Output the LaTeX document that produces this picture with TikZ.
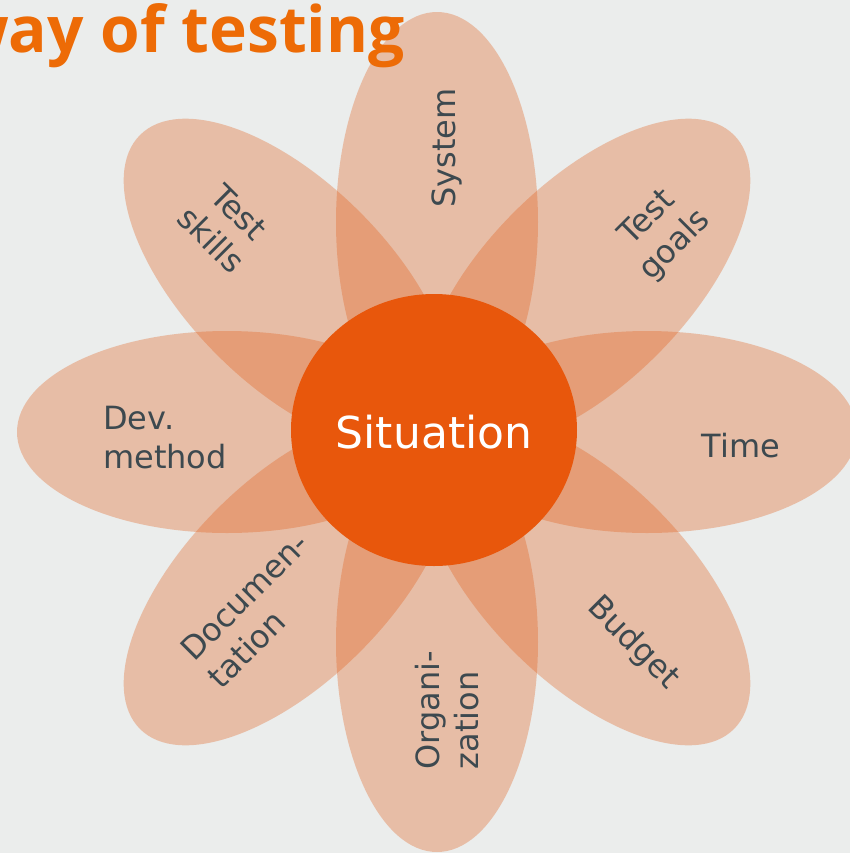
\documentclass[tikz,border=0pt]{standalone}
\usepackage{fontspec}
\setmainfont{DejaVu Sans}
\newfontfamily\titlefont{Open Sans}
\usetikzlibrary{positioning}

\definecolor{bggrey}{RGB}{235,237,236}
\definecolor{petalorange}{RGB}{225,90,20}
\definecolor{heartorange}{RGB}{232,87,12}
\definecolor{titleorange}{RGB}{237,107,6}
\definecolor{labelgrey}{RGB}{61,73,79}

\begin{document}
\begin{tikzpicture}[
        x=0.5pt,y=0.5pt,
        petal/.style={
          fill=petalorange,
          fill opacity=0.32
          },
        heart/.style={
          fill=heartorange
          },
        leaf/.style={
          text=labelgrey,
          font=\fontsize{16}{19.5}\selectfont,
          align=left,
          inner sep=0pt
          },
        headline/.style={
          text=titleorange,
          font=\titlefont\bfseries\fontsize{32}{36}\selectfont,
          inner sep=0pt
          }
        ]
        \useasboundingbox (0,0) rectangle (850,-853);
        \clip (0,0) rectangle (850,-853);
        \fill[bggrey] (0,0) rectangle (850,-853);
        % eight petals round the heart
        \foreach \ang in {0,45,...,315}
          \fill[petal] (437,-432) ++(\ang:210) circle [x radius=210,y radius=101,rotate=\ang];
        \fill[heart] (434,-430) circle [x radius=143,y radius=136];
        \node[text=white,font=\fontsize{22}{26}\selectfont,inner sep=0pt] (situation) at (434,-432) {Situation};
        % petal labels
        \node[leaf,rotate=90] (system) at (447,-148) {System};
        \node[leaf,align=center,rotate=-45] (skills) at (225,-226) {Test\\skills};
        \node[leaf,align=center,rotate=45] (goals) at (662,-232) {Test\\goals};
        \node[leaf] (method) at (165,-438) {Dev.\\method};
        \node[leaf] (time) at (741,-446) {Time};
        \node[leaf,rotate=45] (docs) at (258,-610) {Documen-\\tation};
        \node[leaf,rotate=-45] (budget) at (633,-643) {Budget};
        \node[leaf,rotate=90] (organisation) at (447,-710) {Organi-\\zation};
        \node[headline,anchor=base east] (title) at (405,-52) {way of testing};
\end{tikzpicture}
\end{document}
